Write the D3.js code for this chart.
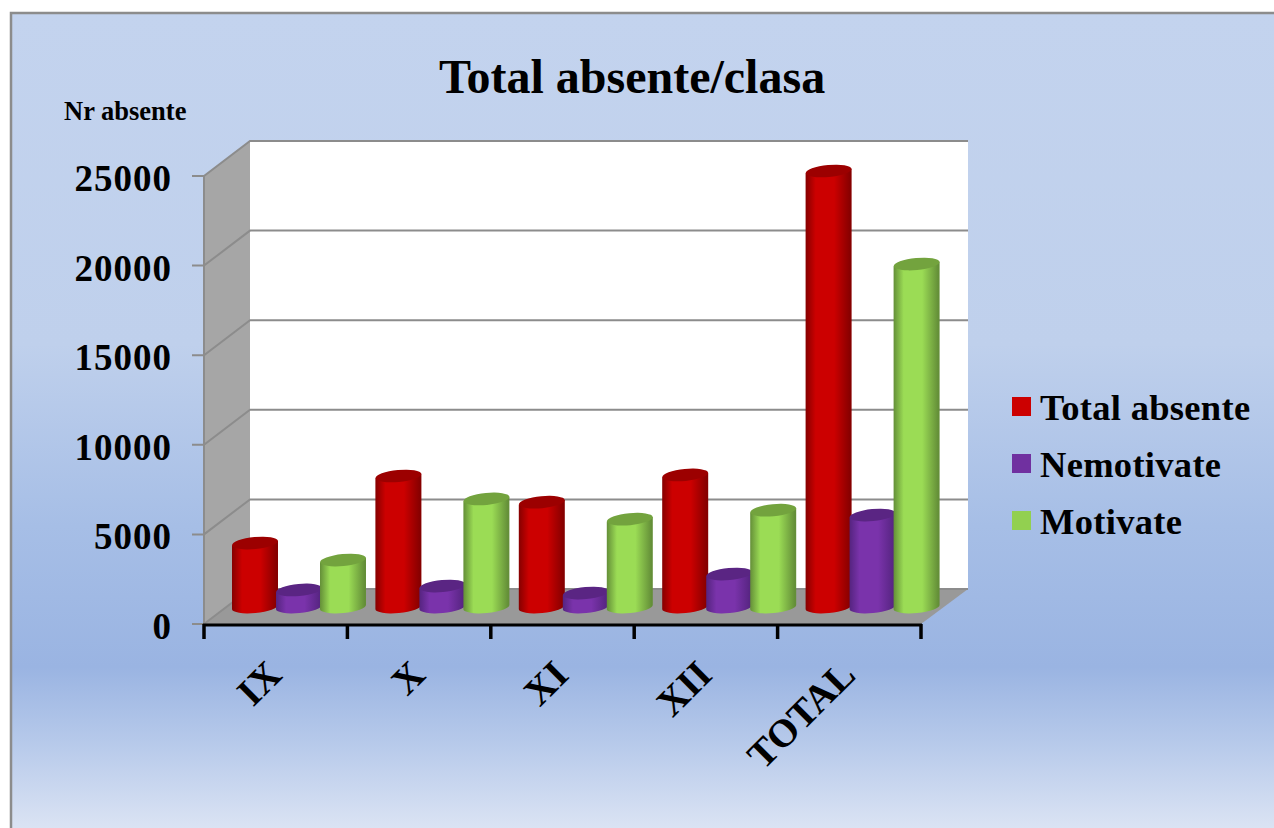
<!DOCTYPE html>
<html>
<head>
<meta charset="utf-8">
<script src="https://cdn.jsdelivr.net/npm/d3@7"></script>
<style>
  html, body { margin: 0; padding: 0; background: #fff; overflow: hidden; }
  svg { display: block; }
  text { font-family: "Liberation Serif", serif; font-weight: bold; fill: #000; }
</style>
</head>
<body>
<div id="chart"></div>
<script>
  const w = 1274;
  const h = 828;

  const categories = ["IX", "X", "XI", "XII", "TOTAL"];
  const seriesNames = ["Total absente", "Nemotivate", "Motivate"];
  const totalAbsente = [3570, 7310, 5850, 7370, 24330];
  const nemotivate = [950, 1170, 780, 1840, 5130];
  const motivate = [2620, 6030, 4900, 5400, 19140];
  const yTicks = [0, 5000, 10000, 15000, 20000, 25000];

  const seriesValues = [totalAbsente, nemotivate, motivate];
  const seriesColors = [
    { id: "red", dark: "#860000", mid: "#cc0000", top: "#9c0000", key: "#cc0000" },
    { id: "purple", dark: "#552480", mid: "#7a33ab", top: "#5a2583", key: "#7030a0" },
    { id: "green", dark: "#648f38", mid: "#9bdc55", top: "#73a33e", key: "#92d050" }
  ];

  // front edge of the floor, back wall is this shifted by depth
  const plotLeft = 204, plotRight = 921, plotBase = 624, plotTop = 176;
  const depthX = 46, depthY = -35;
  const midX = 23, midY = -17;

  const y = d3.scaleLinear().domain([0, 25000]).range([plotBase, plotTop]);
  const x = d3.scaleBand().domain(categories).range([plotLeft, plotRight]);
  const xBar = d3.scaleBand().domain(seriesNames).range([6, 138]).paddingInner(0);

  const svg = d3.select("#chart").append("svg")
    .attr("width", w)
    .attr("height", h);

  const defs = svg.append("defs");

  const bg = defs.append("linearGradient").attr("id", "bg")
    .attr("x1", 0).attr("y1", 0).attr("x2", 0).attr("y2", 1);
  [[0, "#c3d3ee"], [0.4, "#bfd0ec"], [0.62, "#a6bee6"], [0.79, "#9ab4e2"], [0.88, "#b6c9ea"], [1, "#e0e7f5"]]
    .forEach(s => bg.append("stop").attr("offset", s[0]).attr("stop-color", s[1]));

  seriesColors.forEach(c => {
    const g = defs.append("linearGradient").attr("id", "cyl-" + c.id)
      .attr("x1", 0).attr("y1", 0).attr("x2", 1).attr("y2", 0);
    [[0, c.dark], [0.22, c.mid], [0.62, c.mid], [0.97, c.dark], [1, c.dark]]
      .forEach(s => g.append("stop").attr("offset", s[0]).attr("stop-color", s[1]));
  });

  // panel
  svg.append("rect")
    .attr("x", 11).attr("y", 13)
    .attr("width", w).attr("height", h)
    .attr("fill", "url(#bg)")
    .attr("stroke", "#8c8c8c")
    .attr("stroke-width", 2.5);

  // walls
  const wallGrey = "#a6a6a6";
  const lineGrey = "#8c8c8c";
  svg.append("rect")
    .attr("x", plotLeft + depthX).attr("y", y(25000) + depthY)
    .attr("width", plotRight - plotLeft + 1)
    .attr("height", y(0) - y(25000))
    .attr("fill", "#fff");

  const line = d3.line();
  svg.append("path")
    .attr("d", line([[plotLeft, y(0)], [plotLeft, y(25000)], [plotLeft + depthX, y(25000) + depthY], [plotLeft + depthX, y(0) + depthY]]) + "Z")
    .attr("fill", wallGrey);
  svg.append("path")
    .attr("d", line([[plotLeft, y(0)], [plotLeft + depthX, y(0) + depthY], [plotRight + depthX + 1, y(0) + depthY], [plotRight, y(0)]]) + "Z")
    .attr("fill", "#999999");

  yTicks.forEach(t => {
    svg.append("path")
      .attr("d", line([[plotLeft - 12, y(t)], [plotLeft, y(t)], [plotLeft + depthX, y(t) + depthY], [plotRight + depthX + 1, y(t) + depthY]]))
      .attr("fill", "none")
      .attr("stroke", lineGrey)
      .attr("stroke-width", 2);
  });
  svg.append("path")
    .attr("d", line([[plotLeft, y(0)], [plotLeft, y(25000)]]))
    .attr("stroke", lineGrey)
    .attr("stroke-width", 2);

  // x axis
  svg.append("path")
    .attr("d", line([[plotLeft - 1, plotBase + 1], [plotRight + 1, plotBase + 1]]))
    .attr("stroke", "#000")
    .attr("stroke-width", 3);
  d3.range(categories.length + 1).forEach(i => {
    const tx = plotLeft + i * x.step();
    svg.append("path")
      .attr("d", line([[tx, plotBase], [tx, plotBase + 15]]))
      .attr("stroke", "#000")
      .attr("stroke-width", 3.5);
  });

  // cylinders
  const rx = xBar.bandwidth() / 2 + 1;
  const ry = 6;
  const tilt = -5.5;
  const slope = Math.tan(tilt * Math.PI / 180) * rx;

  categories.forEach((cat, i) => {
    seriesNames.forEach((name, j) => {
      const c = seriesColors[j];
      const cx = x(cat) + xBar(name) + midX + xBar.bandwidth() / 2;
      const y0 = y(0) + midY;
      const y1 = y(seriesValues[j][i]) + midY;
      const g = svg.append("g");
      g.append("path")
        .attr("d", `M${cx - rx},${y1 - slope} L${cx + rx},${y1 + slope} L${cx + rx},${y0 + slope}
                    A${rx},${ry} ${tilt} 0 1 ${cx - rx},${y0 - slope} Z`)
        .attr("fill", "url(#cyl-" + c.id + ")");
      g.append("ellipse")
        .attr("cx", cx).attr("cy", y1)
        .attr("rx", rx).attr("ry", ry)
        .attr("transform", `rotate(${tilt} ${cx} ${y1})`)
        .attr("fill", c.top);
    });
  });

  // y tick labels
  yTicks.forEach(t => {
    svg.append("text")
      .attr("x", 172)
      .attr("y", y(t) + 15)
      .attr("text-anchor", "end")
      .attr("font-size", 37)
      .attr("letter-spacing", 1)
      .text(t);
  });

  // x tick labels
  categories.forEach(cat => {
    const tx = x(cat) + x.bandwidth() / 2 + 8;
    svg.append("text")
      .attr("transform", `translate(${tx},677) rotate(-45)`)
      .attr("text-anchor", "end")
      .attr("font-size", 39)
      .text(cat);
  });

  svg.append("text")
    .attr("x", 632).attr("y", 93)
    .attr("text-anchor", "middle")
    .attr("font-size", 48)
    .text("Total absente/clasa");

  svg.append("text")
    .attr("x", 64).attr("y", 120)
    .attr("font-size", 26.5)
    .text("Nr absente");

  // legend
  const legendY = d3.scalePoint().domain(seriesNames).range([407, 521]);
  seriesNames.forEach((name, j) => {
    svg.append("rect")
      .attr("x", 1012).attr("y", legendY(name) - 10)
      .attr("width", 19).attr("height", 19)
      .attr("fill", seriesColors[j].key);
    svg.append("text")
      .attr("x", 1040).attr("y", legendY(name) + 13)
      .attr("font-size", 36.5)
      .attr("letter-spacing", 0.3)
      .text(name);
  });
</script>
</body>
</html>
